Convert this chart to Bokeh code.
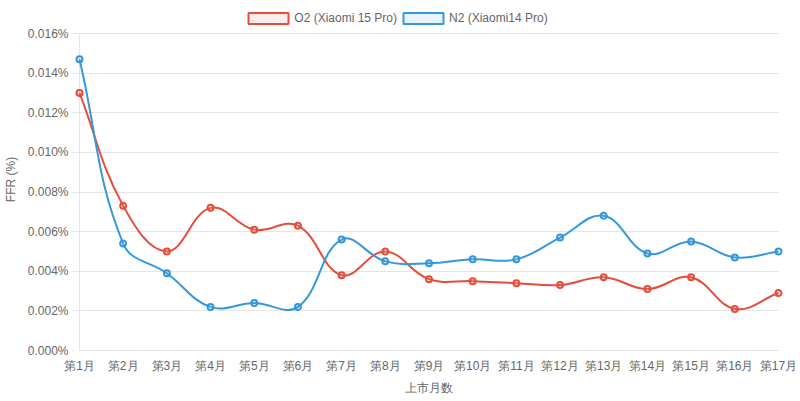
import math
from bokeh.plotting import figure
from bokeh.models import (Range1d, FixedTicker, PrintfTickFormatter, Legend,
                          LegendItem)
from bokeh.embed import file_html
from bokeh.resources import INLINE

# ---------------- data ----------------
months = ["第1月", "第2月", "第3月", "第4月", "第5月", "第6月", "第7月", "第8月",
          "第9月", "第10月", "第11月", "第12月", "第13月", "第14月", "第15月",
          "第16月", "第17月"]
o2_name = "O2 (Xiaomi 15 Pro)"
o2_values = [0.0130, 0.0073, 0.0050, 0.0072, 0.0061, 0.0063, 0.0038, 0.0050,
             0.0036, 0.0035, 0.0034, 0.0033, 0.0037, 0.0031, 0.0037, 0.0021, 0.0029]
n2_name = "N2 (Xiaomi14 Pro)"
n2_values = [0.0147, 0.0054, 0.0039, 0.0022, 0.0024, 0.0022, 0.0056, 0.0045,
             0.0044, 0.0046, 0.0046, 0.0057, 0.0068, 0.0049, 0.0055, 0.0047, 0.0050]
y_ticks = [0.000, 0.002, 0.004, 0.006, 0.008, 0.010, 0.012, 0.014, 0.016]
y_title = "FFR (%)"
x_title = "上市月数"

# ---------------- layout ----------------
W, H = 800, 401
BL, BR, BT, BB = 72, 17, 8, 51          # borders around the frame
PAD = 5                                 # px of frame beyond first/last category
TOP_GAP = 25                            # px of frame above the top tick (legend room)
frame_w = W - BL - BR
frame_h = H - BT - BB
n = len(months)
px_per_x = (frame_w - 2 * PAD) / (n - 1)
y_max = y_ticks[-1]
px_per_y = (frame_h - TOP_GAP) / y_max
pad_x = PAD / px_per_x

RED = "#e74c3c"
RED_BG = "rgba(231,76,60,0.1)"
BLUE = "#3498db"
BLUE_BG = "rgba(52,152,219,0.1)"
TXT = "#666666"
GRID = "#e5e5e5"
FONT = "Liberation Sans"
NAN = float("nan")

p = figure(width=W, height=H, output_backend="svg", toolbar_location=None,
           x_range=Range1d(-pad_x, n - 1 + pad_x),
           y_range=Range1d(0, frame_h / px_per_y),
           min_border_left=BL, min_border_right=BR, min_border_top=BT,
           min_border_bottom=BB)
p.outline_line_color = None
p.background_fill_color = "white"
p.border_fill_color = "white"


def spline(vals, t=0.4):
    pts = [(i * px_per_x, v * px_per_y) for i, v in enumerate(vals)]
    m = len(pts)
    cp_prev, cp_next = [], []

    def cap(x, y):
        x = min(max(x, 0), (m - 1) * px_per_x)
        y = min(max(y, 0), y_max * px_per_y)
        return x, y

    for i in range(m):
        pr = pts[i - 1] if i > 0 else pts[i]
        cu = pts[i]
        nx = pts[i + 1] if i < m - 1 else pts[i]
        d01 = math.hypot(cu[0] - pr[0], cu[1] - pr[1])
        d12 = math.hypot(nx[0] - cu[0], nx[1] - cu[1])
        tot = d01 + d12
        s01 = d01 / tot if tot else 0
        s12 = d12 / tot if tot else 0
        fa, fb = t * s01, t * s12
        cp_prev.append(cap(cu[0] - fa * (nx[0] - pr[0]), cu[1] - fa * (nx[1] - pr[1])))
        cp_next.append(cap(cu[0] + fb * (nx[0] - pr[0]), cu[1] + fb * (nx[1] - pr[1])))
    seg = dict(x0=[], y0=[], x1=[], y1=[], cx0=[], cy0=[], cx1=[], cy1=[])
    for i in range(m - 1):
        seg["x0"].append(pts[i][0] / px_per_x)
        seg["y0"].append(pts[i][1] / px_per_y)
        seg["x1"].append(pts[i + 1][0] / px_per_x)
        seg["y1"].append(pts[i + 1][1] / px_per_y)
        seg["cx0"].append(cp_next[i][0] / px_per_x)
        seg["cy0"].append(cp_next[i][1] / px_per_y)
        seg["cx1"].append(cp_prev[i + 1][0] / px_per_x)
        seg["cy1"].append(cp_prev[i + 1][1] / px_per_y)
    return seg


xs = list(range(n))

# y axis line at the first category, over the tick range
p.segment(x0=[xs[0]], y0=[y_ticks[0]], x1=[xs[0]], y1=[y_ticks[-1]],
          line_color=GRID, line_width=1)

legend_renderers = []
for vals, col, bg in [(o2_values, RED, RED_BG), (n2_values, BLUE, BLUE_BG)]:
    p.bezier(source=spline(vals), x0="x0", y0="y0", x1="x1", y1="y1",
             cx0="cx0", cy0="cy0", cx1="cx1", cy1="cy1",
             line_color=col, line_width=2)
for vals, col, bg in [(o2_values, RED, RED_BG), (n2_values, BLUE, BLUE_BG)]:
    p.scatter(xs, vals, marker="circle", size=6, line_width=2,
              line_color=col, fill_color=bg)
    # legend swatch only (no drawable data)
    legend_renderers.append(
        p.quad(left=[NAN], right=[NAN], top=[NAN], bottom=[NAN], fill_color=bg,
               line_color=col, line_width=2))

# axes
p.xaxis.ticker = FixedTicker(ticks=xs)
p.xaxis.major_label_overrides = {i: m for i, m in enumerate(months)}
p.xaxis.bounds = (0, n - 1)
p.xaxis.axis_line_color = GRID
p.xaxis.major_tick_out = 0
p.xaxis.major_tick_in = 0
p.xaxis.minor_tick_out = 0
p.xaxis.minor_tick_in = 0
p.xaxis.major_label_standoff = 8
p.xaxis.axis_label = x_title
p.xaxis.axis_label_standoff = 5

p.yaxis.ticker = FixedTicker(ticks=y_ticks)
p.yaxis.formatter = PrintfTickFormatter(format="%.3f%%")
p.yaxis.bounds = (0, y_max)
p.yaxis.axis_line_color = None
p.yaxis.major_tick_out = 3
p.yaxis.major_tick_in = 0
p.yaxis.minor_tick_out = 0
p.yaxis.minor_tick_in = 0
p.yaxis.major_label_standoff = 3
p.yaxis.axis_label = y_title
p.yaxis.axis_label_standoff = 7

for ax in (p.xaxis, p.yaxis):
    ax.major_tick_line_color = GRID
    ax.major_label_text_color = TXT
    ax.major_label_text_font = FONT
    ax.major_label_text_font_size = "12px"
    ax.axis_label_text_color = TXT
    ax.axis_label_text_font = FONT
    ax.axis_label_text_font_size = "12px"
    ax.axis_label_text_font_style = "normal"

p.xgrid.visible = False
p.ygrid.grid_line_color = GRID
p.ygrid.cross_bounds = (-pad_x, n - 1)

legend = Legend(items=[LegendItem(label=o2_name, renderers=[legend_renderers[0]]),
                       LegendItem(label=n2_name, renderers=[legend_renderers[1]])],
                orientation="horizontal", location=(169.3, frame_h - 16.5),
                glyph_width=50, glyph_height=14, label_standoff=1, spacing=1,
                padding=0, margin=0, border_line_color=None,
                background_fill_alpha=0, label_text_font=FONT,
                label_text_font_size="12px", label_text_color=TXT)
p.add_layout(legend)

open("out.html", "w").write(file_html(p, INLINE))
